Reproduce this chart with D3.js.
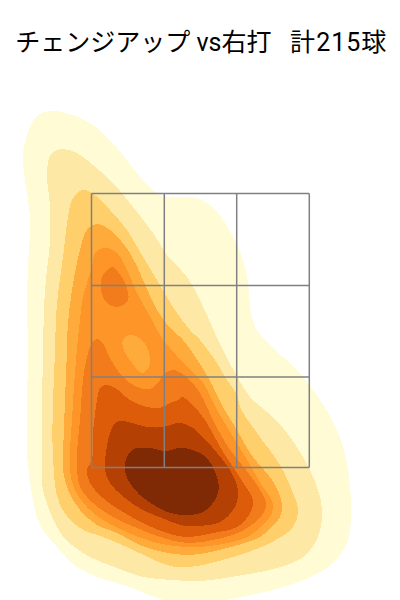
<!DOCTYPE html>
<html><head><meta charset="utf-8">
<script src="https://cdn.jsdelivr.net/npm/d3@7"></script>
<style>html,body{margin:0;padding:0;background:#fff}svg{display:block}</style>
</head><body>
<div id="chart"></div>
<script>
const titleParts = ["チェンジアップ vs右打\u00a0\u00a0\u00a0計","215","球"];
const levelColors = ["#fffbd5","#fee8a5","#fecf6a","#feab3b","#fd9529","#f27c1c","#dc5c0a","#b54004","#802a05"];
const zoneColTicks = [0.5,73.3,145.7,218.3];
const zoneRowTicks = [-0.4,90,181.6,273.6];
const ring1 = [[-41,356],[-18,352],[6,339],[26,319],[46,294],[59,279],[72,271],[89,270],[109,268],[126,255],[142,230],[152,207],[157,184],[159,160],[164,140],[174,127],[192,110],[212,90],[229,67],[246,37],[256,4],[260,-50],[256,-76],[242,-96],[219,-110],[189,-121],[134,-133],[99,-137],[66,-131],[39,-120],[9,-111],[-14,-100],[-34,-80],[-51,-58],[-59,-28],[-64,17],[-63,117],[-64,164],[-63,200],[-61,250],[-67,294],[-68,314],[-61,340],[-53,352]];
const ring2 = [[-28,318],[-14,314],[2,302],[22,284],[42,260],[62,234],[76,212],[96,190],[109,167],[119,145],[127,127],[144,94],[159,70],[176,55],[192,39],[212,10],[226,-20],[231,-43],[227,-70],[212,-90],[186,-101],[152,-108],[109,-114],[82,-113],[52,-110],[26,-101],[-1,-90],[-19,-78],[-31,-65],[-48,-23],[-49,14],[-48,117],[-46,177],[-41,227],[-41,260],[-44,297],[-39,314]];
const ring3 = [[-9,277],[1,274],[19,257],[36,237],[52,210],[66,187],[82,160],[99,137],[109,127],[126,104],[134,90],[146,72],[149,60],[166,34],[189,2],[202,-26],[207,-43],[202,-60],[179,-76],[142,-90],[99,-100],[79,-99],[59,-91],[36,-80],[12,-70],[-11,-61],[-31,-38],[-38,10],[-36,117],[-34,164],[-28,210],[-23,250],[-19,267]];
const ring4 = [[6,243],[19,237],[39,214],[52,187],[66,157],[79,139],[92,127],[117,90],[132,60],[146,37],[159,14],[181,-13],[188,-26],[191,-38],[189,-50],[181,-60],[169,-70],[136,-81],[99,-88],[72,-85],[49,-78],[26,-66],[6,-58],[-11,-43],[-23,-23],[-28,-3],[-28,10],[-24,117],[-23,144],[-19,177],[-11,217],[-4,237]];
const ring5 = [[14,219],[26,214],[36,197],[46,174],[61,147],[72,127],[79,119],[92,104],[112,84],[126,57],[146,24],[159,2],[172,-20],[179,-30],[182,-38],[180,-48],[172,-58],[156,-70],[126,-78],[96,-80],[62,-75],[36,-65],[12,-53],[-4,-40],[-16,-23],[-21,-3],[-19,47],[-15,107],[-11,147],[-8,170],[1,200],[4,214]];
const hole4 = [[39,132],[51,127],[58,114],[58,100],[51,94],[41,104],[32,119],[32,127]];
const peak6 = [[21,200],[27,195],[34,184],[37,167],[26,160],[16,164],[10,177],[11,190]];
const ring6 = [[6,128],[11,125],[19,109],[32,90],[46,80],[59,78],[67,84],[74,94],[82,97],[86,96],[96,90],[109,74],[122,47],[137,20],[151,2],[164,-15],[172,-28],[175,-36],[173,-45],[166,-54],[149,-65],[122,-73],[96,-76],[72,-71],[46,-61],[22,-50],[2,-36],[-11,-20],[-14,0],[-14,14],[-11,47],[-8,87],[-4,110],[1,124]];
const ring7 = [[14,82],[24,79],[39,67],[56,60],[69,59],[79,64],[87,67],[91,70],[102,62],[116,44],[129,20],[142,0],[155,-20],[161,-30],[162,-38],[158,-48],[146,-60],[122,-66],[96,-70],[79,-67],[56,-58],[32,-45],[12,-31],[-1,-16],[-4,-3],[1,7],[2,34],[6,67],[9,79]];
const ring8 = [[32,46],[41,44],[56,40],[72,40],[86,44],[91,44],[102,39],[112,30],[126,14],[139,-3],[147,-23],[144,-40],[129,-55],[106,-59],[89,-58],[76,-53],[52,-43],[34,-31],[19,-16],[14,-3],[14,7],[19,34],[24,44]];
const ring9 = [[47,19],[59,19],[74,16],[89,19],[102,17],[116,9],[124,-5],[128,-20],[124,-33],[112,-45],[96,-48],[79,-46],[66,-40],[49,-28],[37,-13],[34,-3],[34,5],[41,17]];
const layers = [[ring1,0],[ring2,1],[ring3,2],[ring4,3],[ring5,4],[hole4,3],[peak6,5],[ring6,5],[ring7,6],[ring8,7],[ring9,8]];

const x = d3.scaleLinear().domain([0,218]).range([91,309]);
const y = d3.scaleLinear().domain([0,274]).range([467,193]);
const svg = d3.select("#chart").append("svg").attr("width",400).attr("height",600);
const line = d3.line().x(d=>x(d[0])).y(d=>y(d[1])).curve(d3.curveCatmullRomClosed.alpha(0.5));
svg.append("g").selectAll("path").data(layers).join("path")
  .attr("d",d=>line(d[0])).attr("fill",d=>levelColors[d[1]]).attr("stroke","none")
  .attr("shape-rendering","crispEdges");
const g = svg.append("g").attr("stroke","#808080").attr("stroke-width",1.5).attr("fill","none");
g.selectAll("line.v").data(zoneColTicks).join("line").attr("class","v")
  .attr("x1",d=>x(d)).attr("x2",d=>x(d)).attr("y1",y(zoneRowTicks[0])).attr("y2",y(zoneRowTicks[3]));
g.selectAll("line.h").data(zoneRowTicks).join("line").attr("class","h")
  .attr("y1",d=>y(d)).attr("y2",d=>y(d)).attr("x1",x(zoneColTicks[0])).attr("x2",x(zoneColTicks[3]));
const title = svg.append("text").attr("x",15.3).attr("y",51)
  .attr("font-family","Roboto,'Noto Sans CJK JP',sans-serif").attr("font-size",25).attr("fill","#000");
title.selectAll("tspan").data(titleParts).join("tspan")
  .attr("letter-spacing",(d,i)=>i===1?1:0).attr("dx",(d,i)=>i===1?1:0).text(d=>d);
</script>
</body></html>
